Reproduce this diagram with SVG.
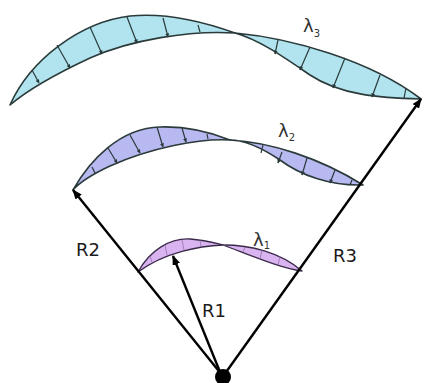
<svg xmlns="http://www.w3.org/2000/svg" width="426" height="383" viewBox="0 0 426 383">
<style>
.band{stroke:#2a3a3a;stroke-width:1.6;stroke-linejoin:round}
.b3{fill:#b2e4ef}
.b2{fill:#b9b9f2}
.b1{fill:#d9b4f0;stroke:#3a2a4a;stroke-width:1.3}
.tick{stroke:#2a3a3a;stroke-width:1.2;fill:none}
.tick1{stroke:#8a6aa0;stroke-width:0.7;fill:none}
.ray{stroke:#000;stroke-width:2.4;fill:none}
.lbl{font-family:"DejaVu Sans","Liberation Sans",sans-serif;font-size:18px;fill:#1a1a1a}
.lam{font-family:"DejaVu Sans","Liberation Sans",sans-serif;font-size:18px;fill:#333}
.sub{font-size:10px}
</style>
<defs>
<marker id="ah" markerWidth="10" markerHeight="8" refX="9" refY="4" orient="auto" markerUnits="userSpaceOnUse">
<path d="M0,0 L10,4 L0,8 Z" fill="#000"/>
</marker>
<marker id="sm" markerWidth="4" markerHeight="4" refX="3.5" refY="2" orient="auto" markerUnits="userSpaceOnUse">
<path d="M0,0 L4,2 L0,4 Z" fill="#2a3a3a"/>
</marker>
</defs>
<g id="band3">
<path class="band b3" d="M10,105 C30,60 80,22 130,16 C170,12 210,24 235,33 C190,30 130,40 90,58 C60,72 30,88 10,105 Z"/>
<path class="band b3" d="M235,33 C290,38 370,60 421,99 C380,98 340,95 310,75 C285,58 260,40 235,33 Z"/>
<g class="tick">
<line x1="32" y1="70" x2="39" y2="83" marker-end="url(#sm)"/>
<line x1="57" y1="45" x2="70" y2="68" marker-end="url(#sm)"/>
<line x1="90" y1="27" x2="102" y2="54" marker-end="url(#sm)"/>
<line x1="127" y1="17" x2="137" y2="43" marker-end="url(#sm)"/>
<line x1="163" y1="18" x2="168" y2="37" marker-end="url(#sm)"/>
<line x1="198" y1="25" x2="200" y2="32"/>
<line x1="278" y1="40" x2="275" y2="54" marker-end="url(#sm)"/>
<line x1="310" y1="47" x2="300" y2="70" marker-end="url(#sm)"/>
<line x1="345" y1="58" x2="333" y2="88" marker-end="url(#sm)"/>
<line x1="380" y1="75" x2="372" y2="97" marker-end="url(#sm)"/>
<line x1="406" y1="88" x2="404" y2="98"/>
</g>
<text class="lam" x="303" y="32">λ<tspan class="sub" dy="5">3</tspan></text>
</g>
<g id="band2">
<path class="band b2" d="M73,190 C90,160 120,128 160,127 C190,126 215,134 230,140 C200,138 150,148 110,166 C95,173 80,182 73,190 Z"/>
<path class="band b2" d="M230,140 C270,142 320,158 363,185 C330,186 300,175 280,160 C265,150 245,140 230,140 Z"/>
<g class="tick">
<line x1="92" y1="167" x2="95" y2="173"/>
<line x1="108" y1="148" x2="117" y2="163" marker-end="url(#sm)"/>
<line x1="130" y1="135" x2="140" y2="153" marker-end="url(#sm)"/>
<line x1="157" y1="127" x2="163" y2="147" marker-end="url(#sm)"/>
<line x1="182" y1="128" x2="186" y2="142" marker-end="url(#sm)"/>
<line x1="207" y1="134" x2="208" y2="139"/>
<line x1="263" y1="145" x2="261" y2="153"/>
<line x1="282" y1="152" x2="278" y2="163" marker-end="url(#sm)"/>
<line x1="307" y1="158" x2="302" y2="175" marker-end="url(#sm)"/>
<line x1="335" y1="170" x2="330" y2="183" marker-end="url(#sm)"/>
<line x1="352" y1="180" x2="350" y2="185"/>
</g>
<text class="lam" x="278" y="137">λ<tspan class="sub" dy="4">2</tspan></text>
</g>
<g id="band1">
<path class="band b1" d="M138,272 C150,250 170,238 190,239 C205,240 215,243 223,245 C200,246 165,252 138,272 Z"/>
<path class="band b1" d="M223,245 C250,245 280,252 302,271 C280,268 250,255 223,245 Z"/>
<g class="tick1">
<line x1="150" y1="256" x2="152" y2="262"/>
<line x1="165" y1="245" x2="167" y2="255"/>
<line x1="182" y1="240" x2="184" y2="250"/>
<line x1="200" y1="240" x2="201" y2="247"/>
<line x1="245" y1="247" x2="243" y2="252"/>
<line x1="262" y1="250" x2="260" y2="259"/>
<line x1="280" y1="256" x2="278" y2="265"/>
</g>
<text class="lam" x="253" y="246">λ<tspan class="sub" dy="3">1</tspan></text>
</g>
<g id="connectors">
<line class="ray" x1="222" y1="375" x2="73" y2="190" marker-end="url(#ah)"/>
<line class="ray" x1="224" y1="375" x2="421" y2="99" marker-end="url(#ah)"/>
<line class="ray" x1="220" y1="372" x2="173" y2="256" marker-end="url(#ah)"/>
</g>
<g id="origin">
<circle cx="223" cy="377" r="8" fill="#000"/>
</g>
<g id="labels">
<text class="lbl" x="76" y="256">R2</text>
<text class="lbl" x="333" y="262">R3</text>
<text class="lbl" x="202" y="317">R1</text>
</g>
</svg>
